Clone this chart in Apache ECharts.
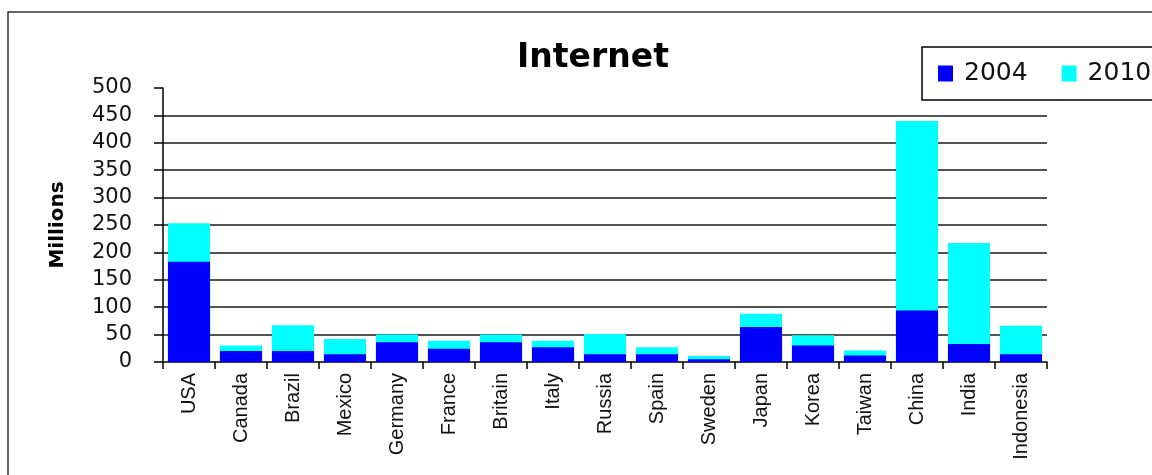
<!DOCTYPE html>
<html>
<head>
<meta charset="utf-8">
<script src="https://cdn.jsdelivr.net/npm/echarts@6/dist/echarts.min.js"></script>
<style>
html,body{margin:0;padding:0;background:#fff;}
#chart{width:1152px;height:475px;}
</style>
</head>
<body>
<div id="chart"></div>
<script>
const categories = ['USA','Canada','Brazil','Mexico','Germany','France','Britain','Italy','Russia','Spain','Sweden','Japan','Korea','Taiwan','China','India','Indonesia'];
const values2004 = [183, 20, 20, 14, 36, 24, 36, 27, 14, 14, 5, 64, 30, 12, 94, 33, 14];
const values2010 = [253, 30, 67, 42, 50, 39, 50, 39, 51, 27, 11, 88, 49, 21, 440, 217, 66];
const seriesNames = ['2004', '2010'];
const yTicks = [0, 500, 50];

const chart = echarts.init(document.getElementById('chart'), null, {renderer: 'canvas'});
const gridColors = ['rgba(0,0,0,0)', '#1a1a1a', '#1a1a1a', '#1a1a1a', '#1a1a1a', '#1a1a1a', '#1a1a1a', '#1a1a1a', '#1a1a1a', '#1a1a1a', 'rgba(0,0,0,0)'];
chart.setOption({
  backgroundColor: '#fff',
  animation: false,
  title: {
    text: 'Internet',
    left: 588,
    textAlign: 'center',
    top: 37,
    textStyle: {fontFamily: 'DejaVu Sans', fontWeight: 'bold', fontSize: 33, color: '#000'}
  },
  graphic: [{
    type: 'rect',
    shape: {x: 8, y: 12, width: 1300, height: 600},
    style: {fill: 'none', stroke: '#333', lineWidth: 1.5},
    silent: true
  }],
  legend: {
    data: seriesNames,
    left: 922,
    top: 47,
    width: 400,
    orient: 'horizontal',
    padding: [14, 16, 14, 16],
    itemWidth: 15,
    itemHeight: 16,
    itemGap: 34,
    borderColor: '#000',
    borderWidth: 1.5,
    icon: 'rect',
    textStyle: {fontFamily: 'DejaVu Sans', fontSize: 25, color: '#111', padding: [0, 0, 0, 6]}
  },
  grid: {left: 163, right: 105, top: 88, bottom: 113},
  xAxis: {
    type: 'category',
    data: categories,
    axisLine: {lineStyle: {color: '#000', width: 1.5}},
    axisTick: {show: true, length: 7, lineStyle: {color: '#000', width: 1.5}},
    axisLabel: {rotate: 90, margin: 11, fontFamily: 'Liberation Sans', fontSize: 20, color: '#111', interval: 0}
  },
  yAxis: {
    type: 'value',
    min: yTicks[0],
    max: yTicks[1],
    interval: yTicks[2],
    name: 'Millions',
    nameLocation: 'middle',
    nameRotate: 90,
    nameGap: 95,
    nameTextStyle: {fontFamily: 'DejaVu Sans', fontWeight: 'bold', fontSize: 20, color: '#000'},
    axisLine: {show: true, lineStyle: {color: '#000', width: 1.5}},
    axisTick: {show: true, length: 9, lineStyle: {color: '#000', width: 1.5}},
    axisLabel: {margin: 31, fontFamily: 'DejaVu Sans', fontSize: 21, color: '#111'},
    splitLine: {show: true, lineStyle: {color: gridColors, width: 1.5}}
  },
  series: [
    {
      name: seriesNames[1],
      type: 'bar',
      data: values2010,
      barCategoryGap: '19%',
      itemStyle: {color: '#00FFFF'}
    },
    {
      name: seriesNames[0],
      type: 'bar',
      data: values2004,
      barGap: '-100%',
      barCategoryGap: '19%',
      itemStyle: {color: '#0000FF'}
    }
  ]
});
</script>
</body>
</html>
